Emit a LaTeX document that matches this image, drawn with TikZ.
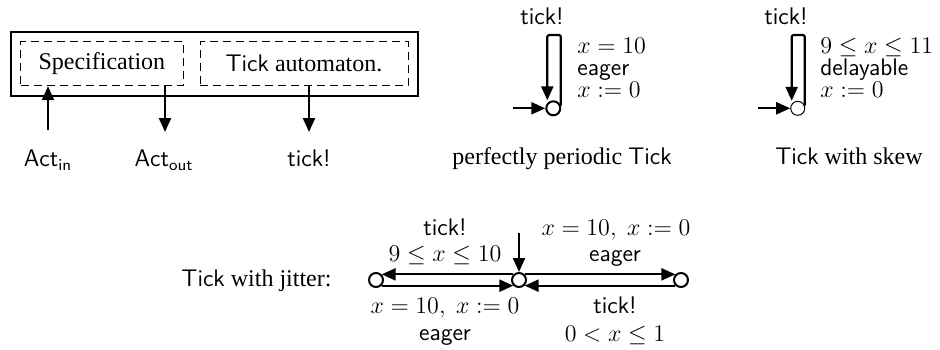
\documentclass[tikz,border=0pt]{standalone}
\usepackage[no-math]{fontspec}
\setmainfont{Liberation Serif}
\usetikzlibrary{arrows.meta}
\tikzset{
  arr/.style={line width=1.1pt, -{Triangle[length=7pt,width=6pt]}},
  state/.style={circle, draw, line width=1pt, minimum size=7pt, inner sep=0pt},
  lbl/.style={anchor=base, inner sep=0pt},
  lblw/.style={anchor=base west, inner sep=0pt},
  dbox/.style={draw, dash pattern=on 4pt off 2.5pt, line width=0.5pt, inner sep=0pt},
}
\begin{document}
\begin{tikzpicture}[x=0.5pt,y=-0.5pt, font=\fontsize{12}{14}\selectfont]
\useasboundingbox (0,0) rectangle (940,349);

% ---- architecture box ----
\node[draw, line width=0.7pt, minimum width=203.5pt, minimum height=32pt, inner sep=0pt] (outer) at (214.5,64) {};
\node[dbox, minimum width=81.2pt, minimum height=22pt] (spec) at (101.9,63.7) {Specification};
\node[dbox, minimum width=104pt, minimum height=22pt] (tauto) at (304,63.7) {\textsf{Tick} automaton.};

\node[lbl] (actin) at (48,166.7) {$\mathsf{Act}_{\mathsf{in}}$};
\node[lbl] (actout) at (164,166.7) {$\mathsf{Act}_{\mathsf{out}}$};
\node[lbl] (tickout) at (309,166.7) {\textsf{tick!}};
\coordinate (ain) at (48,130);
\coordinate (aout) at (165,132);
\coordinate (tout) at (309,132);
\draw[arr] (ain) -- (ain |- spec.south);
\draw[arr] (aout |- spec.south) -- (aout);
\draw[arr] (tout |- tauto.south) -- (tout);

% ---- perfectly periodic ----
\node[state] (p1) at (553.3,108.3) {};
\coordinate (p1in) at (513,108.3);
\coordinate (p1top) at (553.3,35);
\draw[arr] (p1in) -- (p1.west);
\draw[arr, rounded corners=1pt] (p1.20) |- (p1top) -| ([xshift=-3pt]p1.north);
\node[lbl] (p1tick) at (542,24) {\textsf{tick!}};
\node[lblw] (p1g) at (577,53) {$x=10$};
\node[lblw] (p1e) at (577,75) {\textsf{eager}};
\node[lblw] (p1r) at (577,97) {$x:=0$};
\node[lbl] (cap1) at (562,164) {perfectly periodic \textsf{Tick}};

% ---- skew ----
\node[state, line width=0.5pt] (s1) at (797.7,108.3) {};
\coordinate (s1in) at (758,108.3);
\coordinate (s1top) at (797.7,35);
\draw[arr] (s1in) -- (s1.west);
\draw[arr, rounded corners=1pt] (s1.20) |- (s1top) -| ([xshift=-3pt]s1.north);
\node[lbl] (s1tick) at (786,24) {\textsf{tick!}};
\node[lblw] (s1g) at (820,53) {$9\le x\le 11$};
\node[lblw] (s1e) at (820,75) {\textsf{delayable}};
\node[lblw] (s1r) at (820,97) {$x:=0$};
\node[lbl] (cap2) at (849,164) {\textsf{Tick} with skew};

% ---- jitter ----
\node[lbl] (cap3) at (256.5,286.7) {\textsf{Tick} with jitter:};
\node[state] (L) at (376,280) {};
\node[state] (M) at (519,280) {};
\node[state] (R) at (681,280) {};
\coordinate (min) at (519,233);
\draw[arr] (min) -- (M.north);
\draw[arr] (M.135) -- (L.45);
\draw[arr] (L.-45) -- (M.-135);
\draw[arr] (M.45) -- (R.135);
\draw[arr] (R.-135) -- (M.-45);

\node[lbl] (j1) at (445,235) {\textsf{tick!}};
\node[lbl] (j2) at (445,261) {$9\le x\le 10$};
\node[lbl] (j3) at (445,313) {$x=10,\; x:=0$};
\node[lbl] (j4) at (445,340) {\textsf{eager}};
\node[lbl] (j5) at (616,235) {$x=10,\; x:=0$};
\node[lbl] (j6) at (615,261) {\textsf{eager}};
\node[lbl] (j7) at (615,313) {\textsf{tick!}};
\node[lbl] (j8) at (615,341) {$0<x\le 1$};
\end{tikzpicture}
\end{document}
